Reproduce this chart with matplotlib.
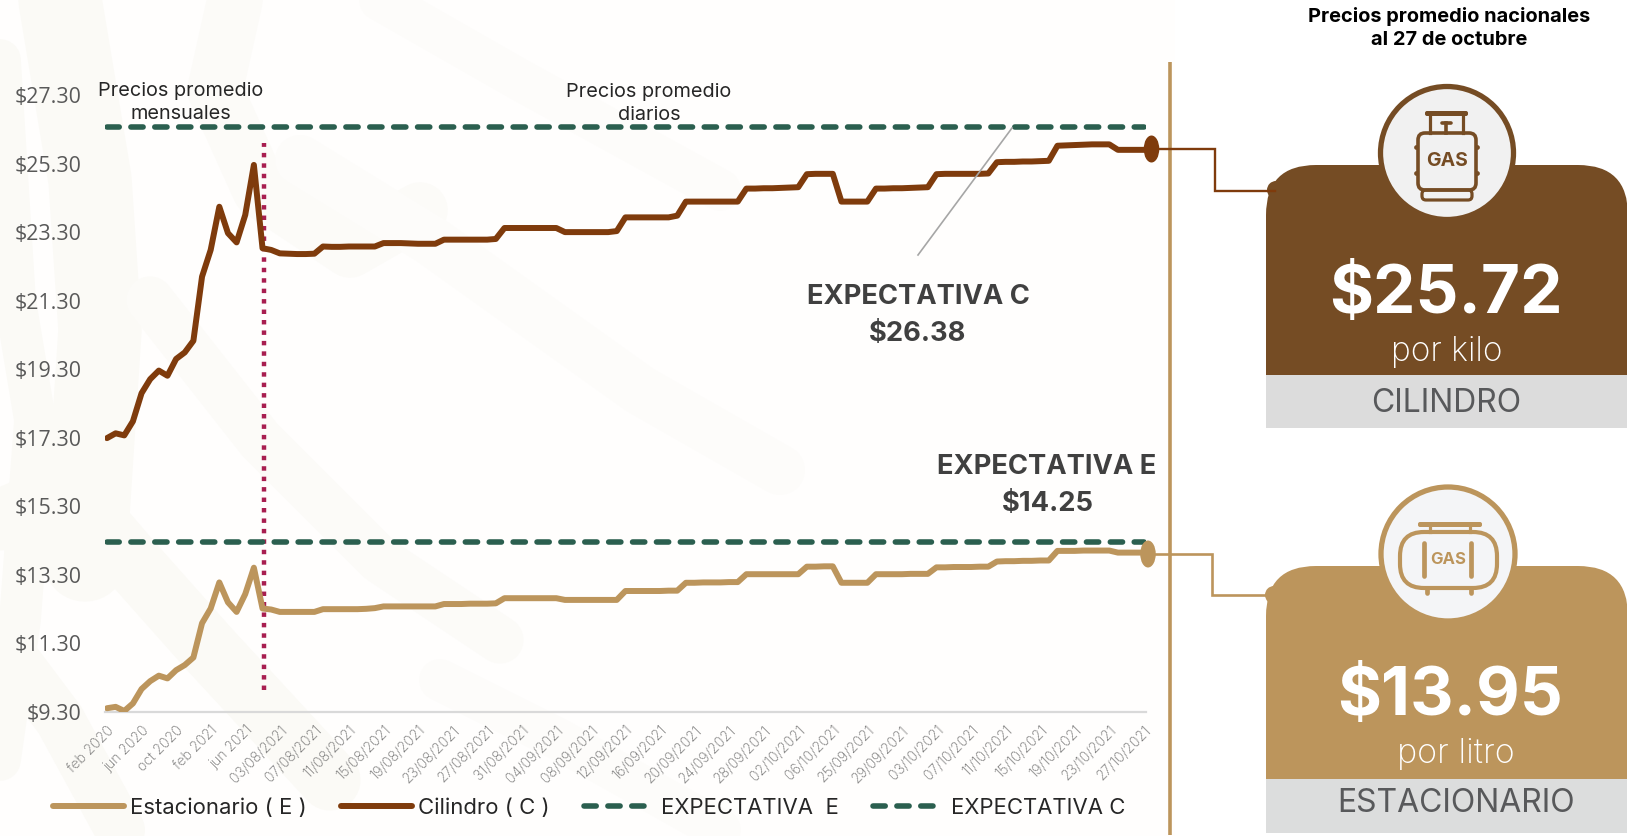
import numpy as np
from matplotlib import pyplot as plt
from matplotlib.patches import Circle, Ellipse, FancyBboxPatch, PathPatch, Rectangle
from matplotlib.path import Path

# precios: 18 meses + diarios
cilindro = [17.29, 17.43, 17.37, 17.78, 18.60, 19.01, 19.26, 19.11, 19.60, 19.79, 20.13, 22.00, 22.78, 24.04, 23.27, 23.00, 23.80, 25.26,
            22.83, 22.78, 22.68, 22.67, 22.66, 22.66, 22.67,
            22.88, 22.87, 22.87, 22.88, 22.88, 22.88, 22.88,
            22.98, 22.98, 22.98, 22.97, 22.96, 22.96, 22.96,
            23.08, 23.08, 23.08, 23.08, 23.08, 23.08, 23.10,
            23.42, 23.42, 23.42, 23.42, 23.42, 23.42, 23.42,
            23.30, 23.30, 23.30, 23.30, 23.30, 23.30, 23.33,
            23.73, 23.73, 23.73, 23.73, 23.73, 23.73, 23.78,
            24.19, 24.19, 24.19, 24.19, 24.19, 24.19, 24.19,
            24.57, 24.57, 24.58, 24.58, 24.59, 24.60, 24.61,
            24.99, 25.00, 25.00, 25.00,
            24.19, 24.19, 24.19, 24.19,
            24.57, 24.57, 24.58, 24.58, 24.59, 24.60, 24.61,
            24.99, 25.00, 25.00, 25.00, 25.00, 25.00, 25.01,
            25.34, 25.35, 25.35, 25.36, 25.36, 25.37, 25.38,
            25.82, 25.83, 25.84, 25.85, 25.86, 25.86, 25.86,
            25.70, 25.70, 25.70, 25.70]
estacionario = [9.41, 9.45, 9.33, 9.55, 9.97, 10.20, 10.36, 10.28, 10.52, 10.67, 10.89, 11.89, 12.32, 13.08, 12.50, 12.22, 12.74, 13.51,
                12.32, 12.29, 12.22, 12.22, 12.22, 12.22, 12.22,
                12.30, 12.30, 12.30, 12.30, 12.30, 12.31, 12.33,
                12.38, 12.38, 12.38, 12.38, 12.38, 12.38, 12.38,
                12.45, 12.45, 12.45, 12.46, 12.46, 12.46, 12.47,
                12.62, 12.62, 12.62, 12.62, 12.62, 12.62, 12.62,
                12.57, 12.57, 12.57, 12.57, 12.57, 12.57, 12.57,
                12.83, 12.83, 12.83, 12.83, 12.83, 12.84, 12.84,
                13.07, 13.07, 13.08, 13.08, 13.08, 13.09, 13.09,
                13.32, 13.32, 13.32, 13.32, 13.32, 13.32, 13.32,
                13.54, 13.54, 13.55, 13.55,
                13.07, 13.07, 13.07, 13.07,
                13.32, 13.32, 13.32, 13.32, 13.33, 13.33, 13.33,
                13.52, 13.52, 13.53, 13.53, 13.53, 13.54, 13.54,
                13.69, 13.70, 13.70, 13.71, 13.71, 13.72, 13.72,
                14.00, 14.00, 14.00, 14.01, 14.01, 14.01, 14.01,
                13.95, 13.95, 13.95, 13.95]
expectativa_c = 26.38
expectativa_e = 14.25
corte = 18.15

etiquetas_x = ['feb 2020', 'jun 2020', 'oct 2020', 'feb 2021', 'jun 2021', '03/08/2021', '07/08/2021', '11/08/2021',
               '15/08/2021', '19/08/2021', '23/08/2021', '27/08/2021', '31/08/2021', '04/09/2021', '08/09/2021',
               '12/09/2021', '16/09/2021', '20/09/2021', '24/09/2021', '28/09/2021', '02/10/2021', '06/10/2021',
               '25/09/2021', '29/09/2021', '03/10/2021', '07/10/2021', '11/10/2021', '15/10/2021', '19/10/2021',
               '23/10/2021', '27/10/2021']
valores_y = [9.3, 11.3, 13.3, 15.3, 17.3, 19.3, 21.3, 23.3, 25.3, 27.3]

CAFE = '#7F3B0C'
CAFE_PANEL = '#754C24'
ORO = '#BC955C'
VERDE = '#2B5F4F'
FUENTE = 'Inter'

W, H = 1627, 836
fig = plt.figure(figsize=(W / 100, H / 100), dpi=100, facecolor='white')

# fondo con la trama clara
fondo = fig.add_axes([0, 0, 1, 1], zorder=0)
fondo.set_xlim(0, W)
fondo.set_ylim(H, 0)
fondo.axis('off')
fondo.add_patch(Rectangle((0, 0), 1175, H, color='#FFFEFD', lw=0))
for xs, ys, lw, c in [([0, 15, 35, 20, 0], [60, 300, 420, 620, 760], 30, '#FBFAF6'),
                      ([60, 90, 100, 85], [0, 180, 330, 560], 60, '#FBFAF6'),
                      ([235, 215, 260, 350, 420], [0, 90, 190, 250, 210], 40, '#FCFBF8'),
                      ([300, 430, 640, 780], [160, 240, 390, 470], 36, '#FDFCFA'),
                      ([150, 260, 380, 500], [300, 440, 560, 640], 34, '#FCFBF8'),
                      ([380, 520, 720], [0, 80, 190], 30, '#FDFCFA'),
                      ([0, 70, 130, 210, 330], [520, 490, 560, 650, 780], 44, '#FBFAF6'),
                      ([0, 60, 120], [640, 720, 830], 36, '#FBFAF6'),
                      ([440, 560, 720], [680, 740, 830], 30, '#FDFCFA')]:
    fondo.plot(xs, ys, color=c, lw=lw, solid_capstyle='round', solid_joinstyle='round')

# grafica principal
ax = fig.add_axes([105 / W, 1 - 712 / H, (1146 - 105) / W, (712 - 95) / H], zorder=1)
ax.patch.set_alpha(0)
x = np.arange(len(cilindro))
ax.plot(x, estacionario, color=ORO, lw=4.3, solid_capstyle='round', solid_joinstyle='round', label='Estacionario ( E )', zorder=4)
ax.plot(x, cilindro, color=CAFE, lw=4.3, solid_capstyle='round', solid_joinstyle='round', label='Cilindro ( C )', zorder=4)
ax.plot([x[0], x[-1]], [expectativa_e, expectativa_e], color=VERDE, lw=4, dashes=(2.2, 2.1),
        dash_capstyle='round', label='EXPECTATIVA  E', zorder=3)
ax.plot([x[0], x[-1]], [expectativa_c, expectativa_c], color=VERDE, lw=4, dashes=(2.2, 2.1),
        dash_capstyle='round', label='EXPECTATIVA C', zorder=3)
ax.plot([corte, corte], [9.94, 25.9], color='#A81E50', lw=3.2, dashes=(1, 1.35), zorder=2)

ax.set_xlim(-0.23, 120.25)
ax.set_ylim(9.3, 27.3)
ax.set_xticks(x[::4])
ax.set_xticklabels(etiquetas_x, rotation=45, ha='right', va='top', rotation_mode='anchor',
                   fontsize=10, color='#686868', family=FUENTE, fontweight='light')
ax.set_yticks(valores_y)
ax.set_yticklabels(['${:.2f}'.format(v) for v in valores_y], fontsize=15.4, color='#595959', family='Open Sans')
ax.tick_params(axis='x', length=0, pad=8)
ax.tick_params(axis='y', length=0, pad=17)
for s in ['top', 'right', 'left']:
    ax.spines[s].set_visible(False)
ax.spines['bottom'].set_color('#D9D9D9')
ax.spines['bottom'].set_linewidth(1.6)

ley = ax.legend(loc='center left', bbox_to_anchor=(33 / W, 1 - 808 / H), bbox_transform=fig.transFigure, ncol=4, frameon=False,
                prop={'family': FUENTE, 'size': 15.9}, handlelength=3.2, handletextpad=0.3, columnspacing=1.55, labelcolor='#262626')

# capa de anotaciones en pixeles
top = fig.add_axes([0, 0, 1, 1], zorder=2)
top.set_xlim(0, W)
top.set_ylim(H, 0)
top.axis('off')
top.patch.set_alpha(0)


def T(x, y, s, size, color='#262626', weight='normal', family=FUENTE, **kw):
    top.text(x, y, s, fontsize=size, color=color, fontweight=weight, family=family,
             ha='center', va='center', **kw)


def panel(x0, x1, y0, y1, r, color):
    verts = [(x0, y1), (x0, y0 + r), (x0, y0), (x0 + r, y0), (x1 - r, y0), (x1, y0), (x1, y0 + r), (x1, y1), (x0, y1)]
    codes = [Path.MOVETO, Path.LINETO, Path.CURVE3, Path.CURVE3, Path.LINETO, Path.CURVE3, Path.CURVE3, Path.LINETO, Path.CLOSEPOLY]
    top.add_patch(PathPatch(Path(verts, codes), facecolor=color, edgecolor='none'))


def caja(x, y, w, h, r, **kw):
    top.add_patch(FancyBboxPatch((x, y), w, h, boxstyle='round,pad=0,rounding_size=%s' % r, **kw))


T(181, 91, 'Precios promedio', 14.3)
T(181, 114, 'mensuales', 14.3)
T(649, 92, 'Precios promedio', 14.3)
T(649, 115, 'diarios', 14.3)

top.plot([1012, 918], [128, 255], color='#A6A6A6', lw=1.2)
T(918, 297, 'EXPECTATIVA C', 19.7, color='#404040', weight='bold')
T(918, 334, '$26.38', 19.7, color='#404040', weight='bold')
T(1047, 467, 'EXPECTATIVA E', 19.7, color='#404040', weight='bold')
T(1048, 504, '$14.25', 19.7, color='#404040', weight='bold')

# separador y conectores
top.plot([1170, 1170], [62, 835], color=ORO, lw=2.6, solid_capstyle='butt')
top.plot([1152, 1215.5, 1215.5, 1275], [149, 149, 191, 191], color=CAFE, lw=1.7, solid_joinstyle='miter')
top.plot([1148, 1212, 1212, 1272], [554, 554, 595, 595], color=ORO, lw=1.9, solid_joinstyle='miter')
top.add_patch(Ellipse((1151.5, 149), 15.5, 27, color=CAFE, lw=0))
top.add_patch(Ellipse((1148, 554), 15.5, 27, color=ORO, lw=0))

# panel cilindro
T(1449, 17, 'Precios promedio nacionales', 14.4, color='black', weight='bold')
T(1449, 40, 'al 27 de octubre', 14.4, color='black', weight='bold')
panel(1266, W + 1, 165, 375, 50, CAFE_PANEL)
top.add_patch(Circle((1276, 190), 9, color=CAFE_PANEL, lw=0))
top.add_patch(Rectangle((1266, 375), W - 1266 + 1, 53, color='#DCDCDC', lw=0))
top.add_patch(Circle((1447, 153), 66.5, facecolor='#F1F1F1', edgecolor=CAFE_PANEL, lw=3.8))
T(1446, 295, '$25.72', 48.5, color='white', weight='bold')
T(1447, 352, 'por kilo', 24, color='white', weight='light')
T(1446, 403, 'CILINDRO', 23, color='#58595B')
# icono cilindro
caja(1425, 111, 43, 5, 2, facecolor=CAFE_PANEL, edgecolor='none')
for xv in [1430, 1463]:
    top.plot([xv, xv], [115, 133], color=CAFE_PANEL, lw=2.3)
top.plot([1442, 1451], [123, 123], color=CAFE_PANEL, lw=2.6, solid_capstyle='round')
top.plot([1446.5, 1446.5], [123, 133], color=CAFE_PANEL, lw=2.6)
caja(1418, 133, 58, 57, 7, facecolor='none', edgecolor=CAFE_PANEL, lw=2.6)
caja(1422, 190, 50, 10, 4, facecolor='none', edgecolor=CAFE_PANEL, lw=2.3)
for yv in [147, 173]:
    top.plot([1416.5, 1477.5], [yv, yv], 'o', color=CAFE_PANEL, ms=3.4, mew=0)
T(1447, 161, 'GAS', 14, color=CAFE_PANEL, weight='bold')

# panel estacionario
panel(1266, W + 1, 566, 779, 50, ORO)
top.add_patch(Circle((1274, 595), 9, color=ORO, lw=0))
top.add_patch(Rectangle((1266, 779), W - 1266 + 1, 54, color='#DCDDDD', lw=0))
top.add_patch(Circle((1448, 554), 67, facecolor='#F4F5F7', edgecolor=ORO, lw=3.8))
T(1450, 698, '$13.95', 48.5, color='white', weight='bold')
T(1456, 754, 'por litro', 24.5, color='white', weight='light')
T(1456, 804, 'ESTACIONARIO', 23, color='#58595B')
# icono tanque
caja(1418, 522, 64, 5, 2, facecolor=ORO, edgecolor='none')
for xv in [1430, 1470]:
    top.plot([xv, xv], [526, 532], color=ORO, lw=2.3)
caja(1400, 532, 97, 56, 24, facecolor='none', edgecolor=ORO, lw=3)
for xv in [1424, 1471]:
    top.plot([xv, xv], [543, 576], color=ORO, lw=3.4, solid_capstyle='round')
for xv in [1427, 1471]:
    top.plot([xv, xv], [589, 593], color=ORO, lw=3.4, solid_capstyle='round')
T(1448, 559, 'GAS', 12, color=ORO, weight='bold')

plt.savefig('out.png', dpi=100)
